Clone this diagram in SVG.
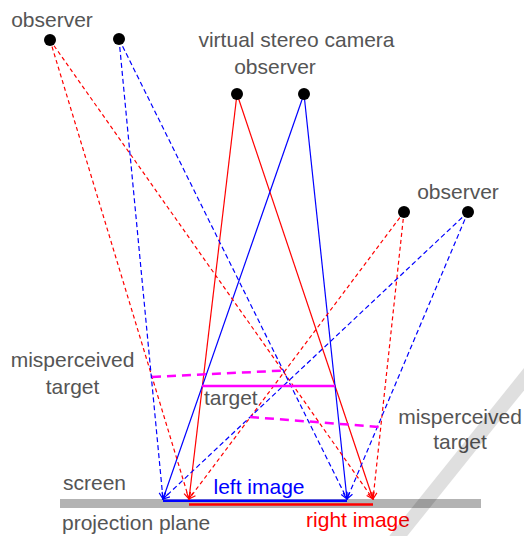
<svg xmlns="http://www.w3.org/2000/svg" width="524" height="536" viewBox="0 0 524 536">
<defs>
<style>
.lbl{font-family:"Liberation Sans",Arial,sans-serif;font-size:21px;fill:#555}
.r{stroke:#ff0000;fill:none;stroke-width:1.2}
.b{stroke:#0000ff;fill:none;stroke-width:1.2}
.rd{stroke-dasharray:4,3}
.bd{stroke-dasharray:5,3}
.mag{stroke:#ff00ff;fill:none;stroke-width:2.5}
.dot{fill:#000}
</style>
<marker id="ar" markerUnits="userSpaceOnUse" viewBox="0 0 8 8" refX="7" refY="4" markerWidth="8" markerHeight="8" orient="auto"><path d="M0.5,0.8 L7,4 L0.5,7.2" fill="none" stroke="#ff0000" stroke-width="1.2"/></marker>
<marker id="ab" markerUnits="userSpaceOnUse" viewBox="0 0 8 8" refX="7" refY="4" markerWidth="8" markerHeight="8" orient="auto"><path d="M0.5,0.8 L7,4 L0.5,7.2" fill="none" stroke="#0000ff" stroke-width="1.2"/></marker>
</defs>
<rect width="524" height="536" fill="#fff"/>
<g id="screen">
<rect x="60" y="499" width="421" height="9" fill="#b3b3b3"/>
<line x1="163" y1="500.7" x2="347" y2="500.7" stroke="#0000ff" stroke-width="2.5"/>
<line x1="189" y1="504.5" x2="373" y2="504.5" stroke="#ff0000" stroke-width="2.5"/>
</g>
<g id="connectors">
<line class="r" x1="237" y1="94" x2="189" y2="499" marker-end="url(#ar)"/>
<line class="r" x1="237" y1="94" x2="373" y2="499" marker-end="url(#ar)"/>
<line class="b" x1="304" y1="94" x2="163" y2="499" marker-end="url(#ab)"/>
<line class="b" x1="304" y1="94" x2="347" y2="499" marker-end="url(#ab)"/>
<line class="r rd" x1="50" y1="40" x2="189" y2="499" marker-end="url(#ar)"/>
<line class="r rd" x1="50" y1="40" x2="373" y2="499" marker-end="url(#ar)"/>
<line class="b bd" x1="119" y1="39" x2="163" y2="499" marker-end="url(#ab)"/>
<line class="b bd" x1="119" y1="39" x2="347" y2="499" marker-end="url(#ab)"/>
<line class="r rd" x1="404" y1="212" x2="189" y2="499" marker-end="url(#ar)"/>
<line class="r rd" x1="404" y1="212" x2="373" y2="499" marker-end="url(#ar)"/>
<line class="b bd" x1="468" y1="212" x2="163" y2="499" marker-end="url(#ab)"/>
<line class="b bd" x1="468" y1="212" x2="347" y2="499" marker-end="url(#ab)"/>
</g>
<g id="target">
<line class="mag" x1="202" y1="386" x2="335" y2="386"/>
<text class="lbl" x="204" y="405">target</text>
</g>
<g id="misperceived-left">
<line class="mag" x1="152" y1="377" x2="284" y2="370.5" stroke-dasharray="9,6"/>
<text class="lbl" x="72.5" y="366.5" text-anchor="middle">misperceived</text>
<text class="lbl" x="72.5" y="393.5" text-anchor="middle">target</text>
</g>
<g id="misperceived-right">
<line class="mag" x1="250" y1="417" x2="380" y2="427" stroke-dasharray="9,6"/>
<text class="lbl" x="460" y="423.5" text-anchor="middle">misperceived</text>
<text class="lbl" x="460" y="448.5" text-anchor="middle">target</text>
</g>
<g id="observer-left">
<circle class="dot" cx="50" cy="40" r="6"/>
<circle class="dot" cx="119" cy="39" r="6"/>
<text class="lbl" x="52" y="26.5" text-anchor="middle">observer</text>
</g>
<g id="camera">
<circle class="dot" cx="237" cy="94" r="6"/>
<circle class="dot" cx="304" cy="94" r="6"/>
<text class="lbl" x="296.5" y="46.5" text-anchor="middle">virtual stereo camera</text>
<text class="lbl" x="275" y="73.5" text-anchor="middle">observer</text>
</g>
<g id="observer-right">
<circle class="dot" cx="404" cy="212" r="6"/>
<circle class="dot" cx="468" cy="212" r="6"/>
<text class="lbl" x="458" y="199" text-anchor="middle">observer</text>
</g>
<g id="labels">
<text class="lbl" x="63" y="490">screen</text>
<text class="lbl" x="62" y="530">projection plane</text>
<text class="lbl" x="259" y="494" text-anchor="middle" style="fill:#0000ff">left image</text>
<text class="lbl" x="358" y="527" text-anchor="middle" style="fill:#ff0000">right image</text>
</g>
<g id="watermark" opacity="0.12">
<line x1="395" y1="540" x2="533" y2="368" stroke="#000" stroke-width="14"/>
</g>
</svg>
